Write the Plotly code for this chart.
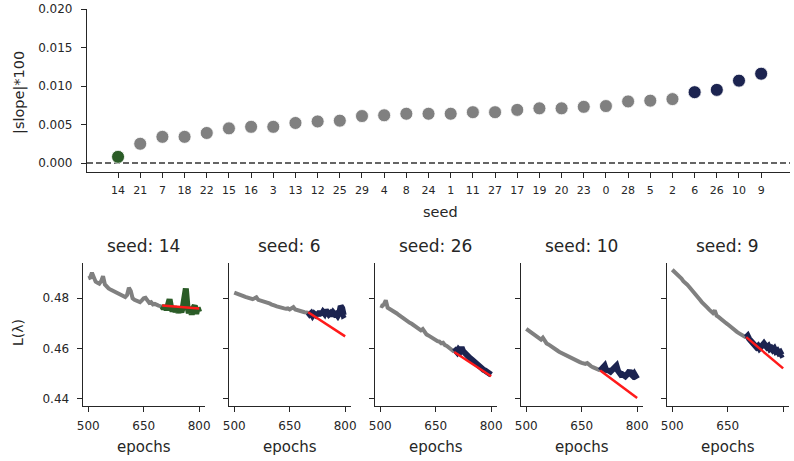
import plotly.graph_objects as go

# ---------------- data: top panel ----------------
seeds = ["14", "21", "7", "18", "22", "15", "16", "3", "13", "12", "25", "29", "4",
         "8", "24", "1", "11", "27", "17", "19", "20", "23", "0", "28", "5", "2",
         "6", "26", "10", "9"]
slope_abs_x100 = [0.0008, 0.0025, 0.0034, 0.0034, 0.0039, 0.0045, 0.0047, 0.0047,
                  0.0052, 0.0054, 0.0055, 0.0061, 0.0062, 0.0064, 0.0064, 0.0064,
                  0.0066, 0.0066, 0.0069, 0.0071, 0.0071, 0.0073, 0.0074, 0.0080,
                  0.0081, 0.0083, 0.0092, 0.0095, 0.0107, 0.0116]
low_seeds = ["14"]
high_seeds = ["6", "26", "10", "9"]

# ---------------- data: bottom panels ----------------
panel_seeds = ["14", "6", "26", "10", "9"]
epochs_early = list(range(500, 701, 5))
epochs_late = list(range(700, 801, 4))
fit_epochs = [700, 800]

early_14 = [0.4878, 0.4881, 0.4900, 0.4878, 0.4865, 0.4861, 0.4857, 0.4867, 0.4887, 0.4854,
            0.4844, 0.4838, 0.4834, 0.4830, 0.4825, 0.4822, 0.4817, 0.4812, 0.4808, 0.4804,
            0.4804, 0.4812, 0.4841, 0.4828, 0.4799, 0.4793, 0.4791, 0.4788, 0.4784, 0.4791,
            0.4799, 0.4801, 0.4791, 0.4781, 0.4784, 0.4775, 0.4777, 0.4772, 0.4770, 0.4768,
            0.4767]
late_14 = [0.4767, 0.4758, 0.4770, 0.4752, 0.4774, 0.4795, 0.4762, 0.4748, 0.4766, 0.4745,
           0.4760, 0.4742, 0.4756, 0.4744, 0.4765, 0.4800, 0.4838, 0.4770, 0.4740, 0.4758,
           0.4735, 0.4760, 0.4770, 0.4738, 0.4762, 0.4745]

early_6 = [0.4822, 0.4820, 0.4817, 0.4815, 0.4811, 0.4808, 0.4805, 0.4803, 0.4800, 0.4799,
           0.4796, 0.4799, 0.4803, 0.4793, 0.4791, 0.4788, 0.4789, 0.4784, 0.4781, 0.4779,
           0.4775, 0.4774, 0.4770, 0.4767, 0.4764, 0.4763, 0.4760, 0.4759, 0.4758, 0.4759,
           0.4755, 0.4758, 0.4764, 0.4755, 0.4752, 0.4751, 0.4748, 0.4747, 0.4744, 0.4743,
           0.4742]
late_6 = [0.4742, 0.4735, 0.4740, 0.4730, 0.4738, 0.4733, 0.4742, 0.4730, 0.4748, 0.4735,
          0.4745, 0.4738, 0.4752, 0.4745, 0.4735, 0.4740, 0.4730, 0.4742, 0.4735, 0.4738,
          0.4730, 0.4740, 0.4768, 0.4760, 0.4732, 0.4735]

early_26 = [0.4771, 0.4768, 0.4775, 0.4791, 0.4762, 0.4758, 0.4752, 0.4748, 0.4742, 0.4739,
            0.4733, 0.4727, 0.4722, 0.4717, 0.4711, 0.4707, 0.4702, 0.4698, 0.4692, 0.4688,
            0.4680, 0.4676, 0.4672, 0.4677, 0.4662, 0.4656, 0.4652, 0.4647, 0.4643, 0.4637,
            0.4633, 0.4629, 0.4627, 0.4621, 0.4623, 0.4613, 0.4610, 0.4603, 0.4598, 0.4592,
            0.4587]
late_26 = [0.4587, 0.4592, 0.4585, 0.4596, 0.4590, 0.4605, 0.4590, 0.4582, 0.4578, 0.4570,
           0.4566, 0.4560, 0.4556, 0.4550, 0.4546, 0.4541, 0.4535, 0.4532, 0.4527, 0.4522,
           0.4515, 0.4512, 0.4507, 0.4508, 0.4502, 0.4496]

early_10 = [0.4678, 0.4672, 0.4666, 0.4661, 0.4656, 0.4651, 0.4645, 0.4640, 0.4635, 0.4643,
            0.4627, 0.4620, 0.4616, 0.4610, 0.4606, 0.4600, 0.4596, 0.4591, 0.4586, 0.4582,
            0.4578, 0.4574, 0.4570, 0.4566, 0.4562, 0.4558, 0.4555, 0.4551, 0.4549, 0.4546,
            0.4543, 0.4541, 0.4539, 0.4542, 0.4534, 0.4530, 0.4526, 0.4522, 0.4518, 0.4516,
            0.4513]
late_10 = [0.4513, 0.4522, 0.4528, 0.4532, 0.4515, 0.4510, 0.4512, 0.4508, 0.4515, 0.4522,
           0.4530, 0.4532, 0.4512, 0.4500, 0.4496, 0.4498, 0.4495, 0.4490, 0.4496, 0.4505,
           0.4512, 0.4498, 0.4492, 0.4500, 0.4488, 0.4480]

early_9 = [0.4912, 0.4906, 0.4899, 0.4891, 0.4885, 0.4877, 0.4867, 0.4862, 0.4854, 0.4846,
           0.4838, 0.4830, 0.4820, 0.4812, 0.4801, 0.4793, 0.4784, 0.4778, 0.4768, 0.4762,
           0.4754, 0.4747, 0.4741, 0.4751, 0.4730, 0.4725, 0.4718, 0.4714, 0.4706, 0.4701,
           0.4696, 0.4689, 0.4685, 0.4679, 0.4672, 0.4666, 0.4661, 0.4656, 0.4652, 0.4648,
           0.4644]
late_9 = [0.4644, 0.4650, 0.4638, 0.4630, 0.4622, 0.4618, 0.4612, 0.4605, 0.4610, 0.4600,
          0.4606, 0.4615, 0.4620, 0.4612, 0.4605, 0.4610, 0.4598, 0.4602, 0.4594, 0.4600,
          0.4588, 0.4592, 0.4582, 0.4586, 0.4575, 0.4578]

fit_start = [0.4770, 0.4744, 0.4586, 0.4513, 0.4645]
fit_end = [0.4759, 0.4648, 0.4490, 0.4404, 0.4521]

early_curves = [early_14, early_6, early_26, early_10, early_9]
late_curves = [late_14, late_6, late_26, late_10, late_9]

# ---------------- style ----------------
W, H = 794, 461
FONT = "DejaVu Sans"
TXT = "#262626"
GRAY = "#808080"
GREEN = "#2b5c27"
NAVY = "#1c2450"
RED = "#ff1a1a"


def px(x):
    return x / W


def py(y):
    return 1 - y / H


point_colors = [GREEN if s in low_seeds else NAVY if s in high_seeds else GRAY for s in seeds]

fig = go.Figure()
fig.add_trace(go.Scatter(
    x=seeds, y=slope_abs_x100, mode="markers",
    marker=dict(size=13, color=point_colors, line=dict(color="white", width=0.8)),
    xaxis="x", yaxis="y", showlegend=False, hoverinfo="skip"))

axis_common = dict(showline=True, linecolor=TXT, linewidth=1.2, ticks="outside",
                   ticklen=5, tickwidth=1.2, tickcolor=TXT, showgrid=False,
                   zeroline=False, mirror=False, automargin=False)

layout = dict(
    template="none",
    width=W, height=H, margin=dict(l=0, r=0, t=0, b=0, pad=0, autoexpand=False),
    paper_bgcolor="white", plot_bgcolor="white",
    font=dict(family=FONT, color=TXT),
    showlegend=False,
    xaxis=dict(domain=[px(87), px(790)], type="category", range=[-1.4, 30.3],
               tickfont=dict(size=11, color=TXT), anchor="y", ticklabelstandoff=3,
               **axis_common),
    yaxis=dict(domain=[py(172), py(9)], range=[-0.00117, 0.02001],
               tickvals=[0, 0.005, 0.010, 0.015, 0.020], tickformat=".3f",
               tickfont=dict(size=12, color=TXT), anchor="x", ticklabelstandoff=6,
               **axis_common),
)

annotations = [
    dict(text="|slope|*100", x=px(20), y=py(93), xref="paper", yref="paper",
         xanchor="center", yanchor="middle",
         textangle=-90, showarrow=False, font=dict(size=14.5, color=TXT)),
    dict(text="seed", x=px(440), y=py(212), xref="paper", yref="paper",
         xanchor="center", yanchor="middle",
         showarrow=False, font=dict(size=14.5, color=TXT)),
    dict(text="L(λ)", x=px(18), y=py(333), xref="paper", yref="paper",
         xanchor="center", yanchor="middle",
         textangle=-90, showarrow=False, font=dict(size=14, color=TXT)),
]

shapes = [dict(type="line", xref="x domain", yref="y", x0=0, x1=1, y0=0, y1=0,
               line=dict(color="#333333", width=1.5, dash="6px,3px"), layer="below")]

for i, s in enumerate(panel_seeds):
    k = i + 2
    left = 82.7 + 146 * i
    right = left + 122
    xa, ya = f"x{k}", f"y{k}"
    hl = GREEN if s in low_seeds else NAVY
    fig.add_trace(go.Scatter(x=epochs_early, y=early_curves[i], mode="lines",
                             line=dict(color=GRAY, width=4), xaxis=xa, yaxis=ya,
                             showlegend=False, hoverinfo="skip"))
    fig.add_trace(go.Scatter(x=epochs_late, y=late_curves[i], mode="lines",
                             line=dict(color=hl, width=6), xaxis=xa, yaxis=ya,
                             showlegend=False, hoverinfo="skip"))
    fig.add_trace(go.Scatter(x=fit_epochs, y=[fit_start[i], fit_end[i]], mode="lines",
                             line=dict(color=RED, width=2.5), xaxis=xa, yaxis=ya,
                             showlegend=False, hoverinfo="skip"))
    layout[f"xaxis{k}"] = dict(domain=[px(left), px(right)], range=[485, 815],
                               tickvals=[500, 650, 800], tickfont=dict(size=12, color=TXT),
                               anchor=ya, ticklabelstandoff=3, **axis_common)
    layout[f"yaxis{k}"] = dict(domain=[py(406), py(263)], range=[0.4372, 0.4939],
                               tickvals=[0.44, 0.46, 0.48], tickformat=".2f",
                               showticklabels=(i == 0), tickfont=dict(size=12, color=TXT),
                               anchor=xa, ticklabelstandoff=5, **axis_common)
    cx = (left + right) / 2
    annotations.append(dict(text=f"seed: {s}", x=px(cx), y=py(246), xref="paper",
                            yref="paper", xanchor="center", yanchor="middle",
                            showarrow=False, font=dict(size=17, color=TXT)))
    annotations.append(dict(text="epochs", x=px(cx), y=py(447), xref="paper",
                            yref="paper", xanchor="center", yanchor="middle",
                            showarrow=False, font=dict(size=15, color=TXT)))

layout["annotations"] = annotations
layout["shapes"] = shapes
fig.update_layout(**layout)
fig.write_html("out.html", config={"displayModeBar": False},
               post_script="document.body.style.margin='0';document.body.style.padding='0';")
